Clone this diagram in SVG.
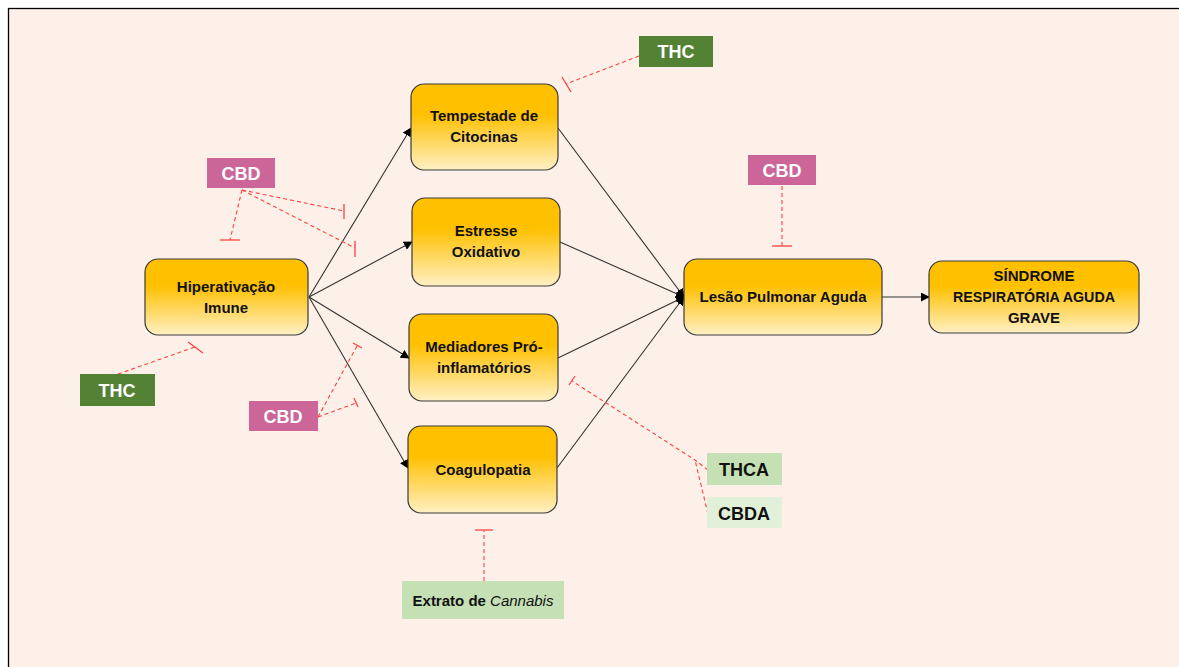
<svg xmlns="http://www.w3.org/2000/svg" width="1179" height="667" viewBox="0 0 1179 667">
<defs>
<linearGradient id="g" x1="0" y1="0" x2="0" y2="1">
<stop offset="0" stop-color="#FFC000"/>
<stop offset="0.35" stop-color="#FFC000"/>
<stop offset="1" stop-color="#FFF0C4"/>
</linearGradient>
<marker id="ar" viewBox="0 0 10 10" refX="9" refY="5" markerWidth="9" markerHeight="9" markerUnits="userSpaceOnUse" orient="auto">
<path d="M0,0 L10,5 L0,10 z" fill="#000"/>
</marker>
</defs>
<style>
.node{fill:url(#g);stroke:#3a3a3a;stroke-width:1.2}
.t{font-family:"Liberation Sans",Arial,sans-serif;font-weight:bold;font-size:15px;fill:#111;text-anchor:middle}
.lbl{font-family:"Liberation Sans",Arial,sans-serif;font-weight:bold;font-size:18px;text-anchor:middle}
.w{fill:#fff}
.k{fill:#111}
.c{stroke:#333;stroke-width:1.1;fill:none}
.inh{stroke:#FF4040;stroke-width:1.1;fill:none;stroke-dasharray:4,3}
.bar{stroke:#FF4040;stroke-width:1.3;fill:none}
</style>
<rect x="0" y="0" width="1179" height="667" fill="#fff"/>
<rect x="8.5" y="8.5" width="1180" height="670" fill="#FDF0E8" stroke="#000" stroke-width="1.3"/>

<g id="connectors">
<line class="c" x1="309" y1="297" x2="411" y2="128" marker-end="url(#ar)"/>
<line class="c" x1="309" y1="297" x2="412" y2="242" marker-end="url(#ar)"/>
<line class="c" x1="309" y1="297" x2="409" y2="358" marker-end="url(#ar)"/>
<line class="c" x1="309" y1="297" x2="408" y2="468" marker-end="url(#ar)"/>
<line class="c" x1="558" y1="128" x2="684" y2="297" marker-end="url(#ar)"/>
<line class="c" x1="560" y1="242" x2="684" y2="297" marker-end="url(#ar)"/>
<line class="c" x1="558" y1="358" x2="684" y2="297" marker-end="url(#ar)"/>
<line class="c" x1="557" y1="468" x2="684" y2="297" marker-end="url(#ar)"/>
<line class="c" x1="882" y1="297" x2="929" y2="297" marker-end="url(#ar)"/>
</g>

<g id="inhibitors">
<path class="inh" d="M242,190 L230,240"/><path class="bar" d="M220,240 L240,240"/>
<path class="inh" d="M242,190 L344,211"/><path class="bar" d="M344,204 L344,219"/>
<path class="inh" d="M242,190 L355,248"/><path class="bar" d="M355,241 L355,257"/>
<path class="inh" d="M318,417 L357,346"/><path class="bar" d="M353,343 L362,348"/>
<path class="inh" d="M318,417 L356,403"/><path class="bar" d="M354,398 L358,407"/>
<path class="inh" d="M118,374 L195,347"/><path class="bar" d="M188,342 L203,353"/>
<path class="inh" d="M639,56 L566,84"/><path class="bar" d="M562,77 L571,92"/>
<path class="inh" d="M782,186 L782,246"/><path class="bar" d="M772,246 L792,246"/>
<path class="inh" d="M708,470 L695,460 L572,381"/><path class="bar" d="M569,385 L575,376"/>
<path class="inh" d="M708,514 L695,460"/>
<path class="inh" d="M484,581 L484,530"/><path class="bar" d="M475,530 L493,530"/>
</g>

<g id="hiperativacao">
<rect class="node" x="145" y="259" width="163" height="76" rx="13"/>
<text class="t" x="226" y="292">Hiperativação</text>
<text class="t" x="226" y="313">Imune</text>
</g>
<g id="tempestade">
<rect class="node" x="411" y="84" width="147" height="86" rx="13"/>
<text class="t" x="484" y="121">Tempestade de</text>
<text class="t" x="484" y="142">Citocinas</text>
</g>
<g id="estresse">
<rect class="node" x="412" y="198" width="148" height="88" rx="13"/>
<text class="t" x="486" y="236">Estresse</text>
<text class="t" x="486" y="257">Oxidativo</text>
</g>
<g id="mediadores">
<rect class="node" x="409" y="314" width="149" height="87" rx="13"/>
<text class="t" x="484" y="352">Mediadores Pró-</text>
<text class="t" x="484" y="373">inflamatórios</text>
</g>
<g id="coagulopatia">
<rect class="node" x="408" y="426" width="149" height="87" rx="13"/>
<text class="t" x="483" y="475">Coagulopatia</text>
</g>
<g id="lesao">
<rect class="node" x="684" y="259" width="198" height="76" rx="13"/>
<text class="t" x="783" y="302">Lesão Pulmonar Aguda</text>
</g>
<g id="sindrome">
<rect class="node" x="929" y="261" width="210" height="72" rx="13"/>
<text class="t" x="1034" y="281">SÍNDROME</text>
<text class="t" x="1034" y="302" textLength="162" lengthAdjust="spacingAndGlyphs">RESPIRATÓRIA AGUDA</text>
<text class="t" x="1034" y="323">GRAVE</text>
</g>

<g id="cbd1"><rect x="207" y="158" width="68" height="30" fill="#CC6699"/><text class="lbl w" x="241" y="180">CBD</text></g>
<g id="cbd2"><rect x="249" y="401" width="69" height="30" fill="#CC6699"/><text class="lbl w" x="283" y="423">CBD</text></g>
<g id="cbd3"><rect x="748" y="155" width="68" height="30" fill="#CC6699"/><text class="lbl w" x="782" y="177">CBD</text></g>
<g id="thc1"><rect x="639" y="36" width="74" height="31" fill="#548235"/><text class="lbl w" x="676" y="58">THC</text></g>
<g id="thc2"><rect x="80" y="374" width="75" height="32" fill="#548235"/><text class="lbl w" x="117" y="397">THC</text></g>
<g id="thca"><rect x="707" y="453" width="75" height="32" fill="#C5E0B4"/><text class="lbl k" x="744" y="476">THCA</text></g>
<g id="cbda"><rect x="707" y="497" width="75" height="31" fill="#E2F0D9"/><text class="lbl k" x="744" y="520">CBDA</text></g>
<g id="extrato"><rect x="402" y="581" width="162" height="38" fill="#C5E0B4"/>
<text class="t" x="483" y="606">Extrato de <tspan font-style="italic" font-weight="normal">Cannabis</tspan></text></g>
</svg>
